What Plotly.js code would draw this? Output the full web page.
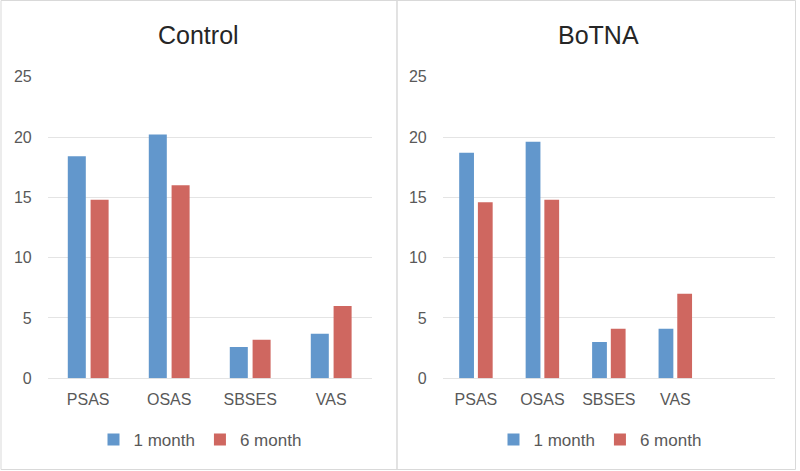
<!DOCTYPE html>
<html>
<head>
<meta charset="utf-8">
<script src="https://cdn.plot.ly/plotly-3.0.1.min.js"></script>
<style>
  html, body { margin: 0; padding: 0; background: #ffffff; }
  #chart { width: 800px; height: 471px; }
</style>
</head>
<body>
<div id="chart"></div>
<script>
const categories = ['PSAS', 'OSAS', 'SBSES', 'VAS'];
const seriesNames = ['1 month', '6 month'];
const controlMonth1 = [18.4, 20.2, 2.6, 3.7];
const controlMonth6 = [14.8, 16.0, 3.2, 6.0];
const botnaMonth1 = [18.7, 19.6, 3.0, 4.1];
const botnaMonth6 = [14.6, 14.8, 4.1, 7.0];
const panelTitles = ['Control', 'BoTNA'];
const yTicks = [0, 5, 10, 15, 20, 25];

const W = 800, H = 471;
const px = v => v / W;
const py = v => (H - v) / H;

const BLUE = '#6297cc';
const RED = '#cf6760';
const FONT = '"Liberation Sans", Arial, sans-serif';
const TICKCOL = '#595959';
const GRID = '#e4e4e4';

function bar(name, x, y, color, xa, ya, leg) {
  return {
    type: 'bar', name: name, x: x, y: y,
    xaxis: xa, yaxis: ya, legend: leg,
    marker: { color: color, line: { width: 0 } },
    hoverinfo: 'x+y+name'
  };
}

const data = [
  bar(seriesNames[0], categories, controlMonth1, BLUE, 'x', 'y', 'legend'),
  bar(seriesNames[1], categories, controlMonth6, RED, 'x', 'y', 'legend'),
  bar(seriesNames[0], categories, botnaMonth1, BLUE, 'x2', 'y2', 'legend2'),
  bar(seriesNames[1], categories, botnaMonth6, RED, 'x2', 'y2', 'legend2')
];

function xAxis(domain, range, anchor) {
  return {
    domain: domain, anchor: anchor, type: 'category',
    categoryorder: 'array', categoryarray: categories,
    range: range, fixedrange: true,
    showgrid: false, zeroline: false, showline: false, ticks: '',
    ticklabelstandoff: 10,
    tickfont: { family: FONT, size: 16, color: TICKCOL }
  };
}
function yAxis(domain, anchor) {
  return {
    domain: domain, anchor: anchor, range: [0, 25],
    tickmode: 'array', tickvals: yTicks, ticktext: yTicks.map(String),
    showgrid: true, gridcolor: GRID, gridwidth: 1,
    zeroline: true, zerolinecolor: GRID, zerolinewidth: 1,
    showline: false, ticks: '', fixedrange: true,
    ticklabelstandoff: 15,
    tickfont: { family: FONT, size: 16, color: TICKCOL }
  };
}

const yDom = [py(378.3), py(76.7)];
const legendCommon = {
  orientation: 'h', xanchor: 'center', yanchor: 'middle',
  y: py(440), font: { family: FONT, size: 17, color: TICKCOL },
  bgcolor: 'rgba(0,0,0,0)', itemclick: false, itemdoubleclick: false
};

const layout = {
  width: W, height: H,
  margin: { l: 0, r: 0, t: 0, b: 0, pad: 0 },
  paper_bgcolor: '#ffffff', plot_bgcolor: '#ffffff',
  font: { family: FONT, color: TICKCOL },
  barmode: 'group', bargap: 0.437, bargroupgap: 0.21,
  xaxis: xAxis([px(47.7), px(371.7)], [-0.5, 3.5], 'y'),
  yaxis: yAxis(yDom, 'x'),
  xaxis2: xAxis([px(442.7), px(775)], [-0.5, 4.5], 'y2'),
  yaxis2: yAxis(yDom, 'x2'),
  legend: Object.assign({}, legendCommon, { x: px(200) }),
  legend2: Object.assign({}, legendCommon, { x: px(600) }),
  showlegend: true,
  annotations: [
    { text: panelTitles[0], xref: 'paper', yref: 'paper', x: px(198.5), y: py(35.5),
      xanchor: 'center', yanchor: 'middle', showarrow: false,
      font: { family: FONT, size: 25, color: '#262626' } },
    { text: panelTitles[1], xref: 'paper', yref: 'paper', x: px(598), y: py(35.5),
      xanchor: 'center', yanchor: 'middle', showarrow: false,
      font: { family: FONT, size: 25, color: '#262626' } }
  ],
  shapes: [
    { type: 'rect', xref: 'paper', yref: 'paper', x0: px(1), x1: px(397), y0: py(469.5), y1: py(0.5),
      line: { color: '#d9d9d9', width: 1 }, fillcolor: 'rgba(0,0,0,0)', layer: 'below' },
    { type: 'rect', xref: 'paper', yref: 'paper', x0: px(397), x1: px(795.5), y0: py(469.5), y1: py(0.5),
      line: { color: '#d9d9d9', width: 1 }, fillcolor: 'rgba(0,0,0,0)', layer: 'below' }
  ]
};

Plotly.newPlot('chart', data, layout, { displayModeBar: false, responsive: false });
</script>
</body>
</html>
